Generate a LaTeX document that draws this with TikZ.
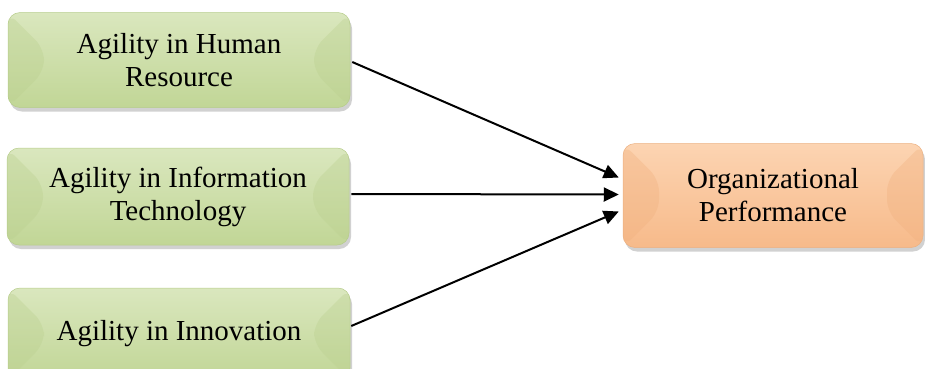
\documentclass[tikz,border=0pt]{standalone}
\usepackage{fontspec}
\setmainfont{Liberation Serif}
\usetikzlibrary{arrows.meta,shadows,calc}
\definecolor{gtop}{RGB}{218,231,190}
\definecolor{gbot}{RGB}{193,214,150}
\definecolor{gside}{RGB}{186,207,142}
\definecolor{gline}{RGB}{182,204,138}
\definecolor{otop}{RGB}{252,212,178}
\definecolor{obot}{RGB}{247,186,138}
\definecolor{oside}{RGB}{240,176,126}
\definecolor{oline}{RGB}{236,176,128}
\begin{document}
\begin{tikzpicture}[x=1pt,y=-1pt,
  boxbase/.style={rounded corners=12pt, minimum width=#1, inner sep=0pt, align=center,
    font=\fontsize{29}{33}\selectfont,
    drop shadow={shadow xshift=2pt,shadow yshift=-4pt,opacity=0.3,fill=black!60}},
  greenbox/.style={boxbase=342pt, draw=gline, line width=0.5pt, top color=gtop, bottom color=gbot,
    path picture={
      \fill[gside,opacity=0.35] (path picture bounding box.north west) -- ++(36pt,-36pt) -- ($(path picture bounding box.south west)+(36pt,36pt)$) -- (path picture bounding box.south west) -- cycle;
      \fill[gside,opacity=0.35] (path picture bounding box.north east) -- ++(-36pt,-36pt) -- ($(path picture bounding box.south east)+(-36pt,36pt)$) -- (path picture bounding box.south east) -- cycle;
    }},
  orangebox/.style={boxbase=300pt, draw=oline, line width=0.5pt, top color=otop, bottom color=obot,
    path picture={
      \fill[oside,opacity=0.35] (path picture bounding box.north west) -- ++(36pt,-36pt) -- ($(path picture bounding box.south west)+(36pt,36pt)$) -- (path picture bounding box.south west) -- cycle;
      \fill[oside,opacity=0.35] (path picture bounding box.north east) -- ++(-36pt,-36pt) -- ($(path picture bounding box.south east)+(-36pt,36pt)$) -- (path picture bounding box.south east) -- cycle;
    }},
  conn/.style={line width=2pt, -{Triangle[length=15pt,width=14pt]}}]
\useasboundingbox (0,0) rectangle (925,368);
\node[greenbox, minimum height=95pt] (hr) at (179,60) {Agility in Human\\Resource};
\node[greenbox, minimum height=97pt] (it) at (178,196.5) {Agility in Information\\Technology};
\node[greenbox, minimum height=92pt] (in) at (179,334) {Agility in Innovation};
\node[orangebox, minimum height=104pt] (op) at (773,195.5) {Organizational\\Performance};
\coordinate (t1) at ($(op.west)+(-4,-18)$);
\coordinate (t2) at ($(op.west)+(-4,-1)$);
\coordinate (t3) at ($(op.west)+(-4,16)$);
\coordinate (s1) at ($(hr.east)+(2,2)$);
\coordinate (s2) at ($(it.east)+(2,-2.5)$);
\coordinate (s3) at ($(in.east)+(1,-8)$);
\draw[conn] (s1) -- (t1);
\draw[conn] (s2) -- (t2);
\draw[conn] (s3) -- (t3);
\end{tikzpicture}
\end{document}
